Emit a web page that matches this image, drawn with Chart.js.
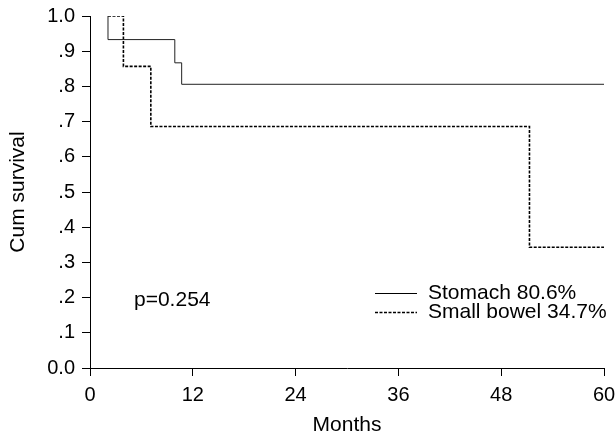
<!DOCTYPE html>
<html>
<head>
<meta charset="utf-8">
<script src="https://cdn.jsdelivr.net/npm/chart.js@4"></script>
<style>
  body { margin: 0; background: #fff; }
</style>
</head>
<body>
<canvas id="km" width="616" height="438"></canvas>
<script>
// Kaplan-Meier steps (months, cumulative survival)
const stomachMonths = [2.1, 2.1, 9.9, 10.7, 60];
const stomachSurv = [1.0, 0.933, 0.867, 0.806, 0.806];
const bowelMonths = [2.1, 3.9, 7.1, 51.3, 60];
const bowelSurv = [1.0, 0.857, 0.686, 0.343, 0.343];

const seriesLabels = ["Stomach 80.6%", "Small bowel 34.7%"];
const xTicks = [0, 12, 24, 36, 48, 60];
const yTicks = [0, 0.1, 0.2, 0.3, 0.4, 0.5, 0.6, 0.7, 0.8, 0.9, 1.0];
const pText = "p=0.254";

const FONT = "'Liberation Sans', Arial, sans-serif";

function toPoints(xs, ys) {
    return xs.map((x, i) => ({ x: x, y: ys[i] }));
}

// legend and p value drawn inside the plot area
const notes = {
    id: "notes",
    afterDraw(chart) {
        const ctx = chart.ctx;
        ctx.save();
        ctx.fillStyle = "#000";
        ctx.font = "21px " + FONT;
        ctx.textBaseline = "middle";
        ctx.fillText(pText, 134, 300);

        const rows = [
            { y: 293, dash: [], w: 1 },
            { y: 312, dash: [3, 1.5], w: 1.5 },
        ];
        rows.forEach((r, i) => {
            ctx.beginPath();
            ctx.strokeStyle = "#000";
            ctx.lineWidth = r.w;
            ctx.setLineDash(r.dash);
            ctx.moveTo(375, r.y + 0.5);
            ctx.lineTo(417, r.y + 0.5);
            ctx.stroke();
            ctx.setLineDash([]);
            ctx.fillText(seriesLabels[i], 428, r.y);
        });
        ctx.restore();
    },
};

new Chart(document.getElementById("km"), {
    type: "line",
    data: {
        datasets: [
            {
                label: seriesLabels[0],
                data: toPoints(stomachMonths, stomachSurv),
                borderColor: "#222",
                borderWidth: 1,
                stepped: "before",
                pointRadius: 0,
                fill: false,
            },
            {
                label: seriesLabels[1],
                data: toPoints(bowelMonths, bowelSurv),
                borderColor: "#000",
                borderWidth: 1.6,
                borderDash: [3, 1.5],
                stepped: "before",
                pointRadius: 0,
                fill: false,
            },
        ],
    },
    options: {
        responsive: false,
        animation: false,
        devicePixelRatio: 1,
        layout: { padding: { top: 16, right: 12, left: 0, bottom: 0 } },
        plugins: {
            legend: { display: false },
            tooltip: { enabled: false },
        },
        scales: {
            x: {
                type: "linear",
                min: 0,
                max: 60,
                afterBuildTicks: (s) => { s.ticks = xTicks.map((v) => ({ value: v })); },
                afterFit: (s) => { s.height = 70; s.paddingLeft = 0; s.paddingRight = 0; },
                grid: { drawOnChartArea: false, tickLength: 8, color: "#000" },
                border: { color: "#000", width: 1 },
                ticks: { color: "#000", font: { family: FONT, size: 20 }, padding: 7, maxRotation: 0 },
                title: { display: true, text: "Months", color: "#000", font: { family: FONT, size: 21 }, padding: { top: 0, bottom: 0 } },
            },
            y: {
                min: 0,
                max: 1,
                afterBuildTicks: (s) => { s.ticks = yTicks.map((v) => ({ value: v })); },
                afterFit: (s) => { s.width = 90; s.paddingTop = 0; s.paddingBottom = 0; },
                grid: { drawOnChartArea: false, tickLength: 8, color: "#000" },
                border: { color: "#000", width: 1 },
                ticks: {
                    color: "#000",
                    font: { family: FONT, size: 20 },
                    padding: 7,
                    callback: (v) => (v === 0 || v === 1 ? v.toFixed(1) : v.toFixed(1).replace(/^0/, "")),
                },
                title: { display: true, text: "Cum survival", color: "#000", font: { family: FONT, size: 21 }, padding: { top: 6, bottom: 0 } },
            },
        },
    },
    plugins: [notes],
});
</script>
</body>
</html>
